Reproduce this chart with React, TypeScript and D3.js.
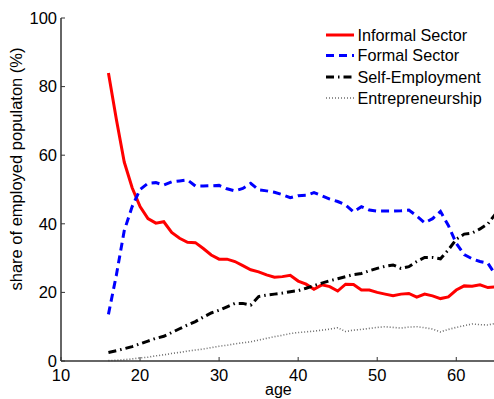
import React from "react";
import * as d3 from "d3";

const ages = d3.range(16, 66);
const informal = [84, 70.5, 58, 50.5, 45, 41.5, 40.2, 40.6, 37.5, 35.8, 34.6, 34.5, 32.8, 30.9, 29.7, 29.7, 29, 27.8, 26.6, 26, 25.1, 24.4, 24.6, 25, 23.3, 22.4, 20.9, 22.2, 21.7, 20.4, 22.4, 22.3, 20.7, 20.7, 20, 19.5, 19, 19.5, 19.7, 18.6, 19.5, 19, 18.2, 18.7, 20.7, 21.9, 21.8, 22.2, 21.4, 21.6];
const formal = [13.6, 25, 38, 45, 50, 51.8, 52, 51.3, 52.2, 52.5, 52.8, 51, 51, 51.1, 51.2, 50.2, 49.6, 50.3, 51.8, 49.9, 49.6, 49.2, 48.5, 47.6, 48.2, 48.3, 49.1, 48.2, 47.2, 46.5, 45.5, 43.5, 45, 44, 43.7, 43.7, 43.7, 43.8, 44, 42.3, 40.3, 41.5, 43.6, 39.5, 34.3, 31, 29.8, 29, 28.5, 25];
const selfEmployment = [2.5, 3, 3.6, 4.2, 5, 5.8, 6.6, 7.2, 8.3, 9.4, 10.5, 11.5, 12.8, 14, 14.8, 15.8, 16.8, 16.8, 16.3, 18.8, 19.2, 19.5, 19.8, 20.2, 20.5, 21.2, 22, 22.7, 23.4, 24, 24.6, 25.2, 25.5, 26.3, 27, 27.6, 28, 27, 27.5, 29, 30.2, 30.2, 29.8, 32.4, 35.5, 37, 37.3, 38.5, 40, 43];
const entrepreneurship = [0.1, 0.2, 0.4, 0.6, 0.9, 1.1, 1.5, 1.8, 2.2, 2.5, 2.9, 3.2, 3.5, 3.9, 4.3, 4.6, 5, 5.3, 5.6, 6.1, 6.6, 7.1, 7.5, 8, 8.3, 8.5, 8.7, 9, 9.3, 9.7, 8.6, 9, 9.2, 9.5, 9.8, 10, 9.8, 9.6, 9.9, 10, 9.7, 9.3, 8.5, 9.2, 9.8, 10.3, 10.8, 10.6, 10.5, 11];
const xTicks = [10, 20, 30, 40, 50, 60];
const yTicks = [0, 20, 40, 60, 80, 100];
const seriesNames = ["Informal Sector", "Formal Sector", "Self-Employment", "Entrepreneurship"];

const W = 494, H = 399;
const x = d3.scaleLinear().domain([10, 65]).range([61, 495.8]);
const y = d3.scaleLinear().domain([0, 100]).range([361, 18]);

const styles = [
  { color: "#ff0000", width: 3, dash: "none" },
  { color: "#0000ff", width: 3, dash: "8,5" },
  { color: "#000000", width: 3, dash: "8,4,1.5,4" },
  { color: "#6e6e6e", width: 1.6, dash: "1,2" },
];

export default function App() {
  const data = [informal, formal, selfEmployment, entrepreneurship];
  const line = d3.line<number>().x((_, i) => x(ages[i])).y((d) => y(d));
  const font = "'Liberation Sans', Arial, sans-serif";
  return (
    <svg width={W} height={H} style={{ position: "absolute", left: 0, top: 0, fontFamily: font }}>
      <rect width={W} height={H} fill="#fff" />
      {data.map((s, k) => (
        <path key={k} d={line(s) || ""} fill="none" stroke={styles[k].color}
          strokeWidth={styles[k].width} strokeDasharray={styles[k].dash} />
      ))}
      <line x1={x(10)} x2={x(10)} y1={y(0)} y2={y(100)} stroke="#333" strokeWidth={1.5} />
      <line x1={x(10)} x2={W} y1={y(0)} y2={y(0)} stroke="#333" strokeWidth={1.5} />
      {xTicks.map((t) => (
        <g key={t}>
          <line x1={x(t)} x2={x(t)} y1={y(0)} y2={y(0) - 4} stroke="#333" strokeWidth={1} />
          <text x={x(t)} y={y(0) + 20} fontSize={16.5} textAnchor="middle" fill="#000">{t}</text>
        </g>
      ))}
      {yTicks.map((t) => (
        <g key={t}>
          <line x1={x(10)} x2={x(10) + 4} y1={y(t)} y2={y(t)} stroke="#333" strokeWidth={1} />
          <text x={x(10) - 4} y={y(t)} dy="0.35em" fontSize={16.5} textAnchor="end" fill="#000">{t}</text>
        </g>
      ))}
      <text x={(x(10) + x(65)) / 2} y={395} fontSize={16} textAnchor="middle" fill="#000">age</text>
      <text transform={`translate(22,169) rotate(-90)`} fontSize={16.5} textAnchor="middle" fill="#000">share of employed populaton (%)</text>
      {seriesNames.map((n, k) => {
        const ly = [35, 55.5, 77, 98][k];
        return (
          <g key={n}>
            <line x1={326} x2={354} y1={ly} y2={ly} stroke={styles[k].color}
              strokeWidth={styles[k].width} strokeDasharray={styles[k].dash} />
            <text x={357.5} y={ly} dy="0.35em" fontSize={16.2} fill="#000">{n}</text>
          </g>
        );
      })}
    </svg>
  );
}
